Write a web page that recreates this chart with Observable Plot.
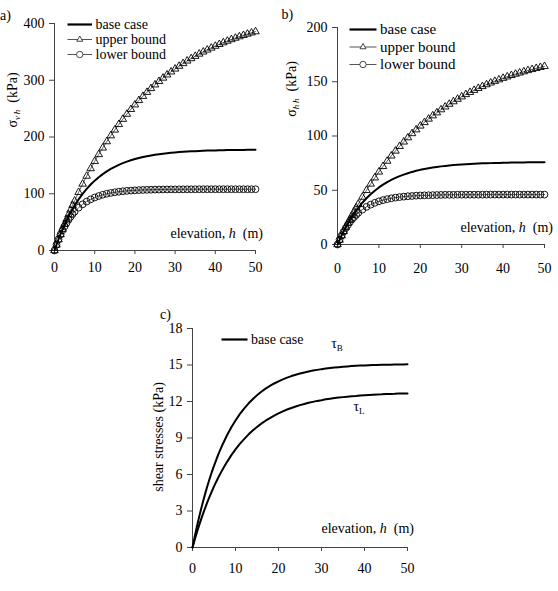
<!DOCTYPE html>
<html>
<head>
<meta charset="utf-8">
<script src="https://cdn.jsdelivr.net/npm/d3@7"></script>
<script src="https://cdn.jsdelivr.net/npm/@observablehq/plot@0.6"></script>
<style>
  html, body { margin: 0; padding: 0; background: white; }
  #fig { position: relative; width: 558px; height: 591px; background: white; overflow: hidden; }
  #fig svg { position: absolute; overflow: visible; max-width: none; }
  #fig svg, #fig svg text, #fig svg tspan { font-family: "Liberation Serif", Tinos, "Times New Roman", serif !important; }
</style>
</head>
<body>
<div id="fig"></div>
<script>
// ---------- data ----------
const h = [0,0.5,1,1.5,2,2.5,3,3.5,4,4.5,5,6,7,8,9,10,11,12,13,14,15,16,17,18,19,20,21,22,23,24,25,26,27,28,29,30,31,32,33,34,35,36,37,38,39,40,41,42,43,44,45,46,47,48,49,50];

// panel a) sigma_vh (kPa)
const aBase  = [0,10.2,19.8,28.8,37.3,45.4,52.9,60.1,66.8,73.2,79.2,90.1,99.9,108.5,116.3,123.1,129.2,134.6,139.4,143.7,147.5,150.9,153.9,156.6,159.0,161.1,163.0,164.6,166.1,167.4,168.6,169.7,170.6,171.4,172.1,172.8,173.4,173.9,174.3,174.7,175.1,175.4,175.7,176.0,176.2,176.4,176.6,176.7,176.9,177.0,177.1,177.2,177.3,177.4,177.4,177.5];
const aUpper = [0,9.7,19.1,28.3,37.4,46.2,54.8,63.3,71.5,79.6,87.4,102.6,117.2,131.1,144.4,157.1,169.2,180.8,191.9,202.4,212.5,222.2,231.4,240.3,248.7,256.8,264.5,271.8,278.9,285.6,292.0,298.1,304.0,309.6,314.9,320.0,324.9,329.6,334.1,338.3,342.4,346.3,350.0,353.5,356.9,360.2,363.3,366.3,369.1,371.8,374.4,376.9,379.2,381.5,383.6,385.7];
const aLower = [0,10.3,19.6,28.0,35.6,42.5,48.7,54.4,59.5,64.1,68.3,75.5,81.4,86.2,90.1,93.4,96.0,98.2,100.0,101.4,102.6,103.6,104.4,105.1,105.6,106.0,106.4,106.7,106.9,107.1,107.3,107.4,107.5,107.6,107.7,107.7,107.8,107.8,107.9,107.9,107.9,108,108,108,108,108,108,108,108,108,108,108,108,108,108,108];

// panel b) sigma_hh (kPa)
const bBase  = [0,4.3,8.4,12.3,15.9,19.4,22.6,25.7,28.5,31.2,33.8,38.5,42.6,46.3,49.6,52.6,55.2,57.5,59.5,61.4,63.0,64.4,65.7,66.9,67.9,68.8,69.6,70.3,70.9,71.5,72.0,72.4,72.8,73.2,73.5,73.8,74.0,74.2,74.4,74.6,74.8,74.9,75.0,75.1,75.2,75.3,75.4,75.5,75.5,75.6,75.6,75.7,75.7,75.7,75.8,75.8];
const bUpper = [0,4.1,8.1,12.1,15.9,19.7,23.3,26.9,30.4,33.9,37.2,43.7,49.9,55.8,61.5,66.9,72.0,76.9,81.7,86.2,90.5,94.6,98.5,102.3,105.8,109.3,112.5,115.7,118.7,121.5,124.3,126.9,129.4,131.7,134.0,136.2,138.3,140.3,142.2,144.0,145.7,147.4,149.0,150.5,151.9,153.3,154.6,155.9,157.1,158.2,159.3,160.4,161.4,162.4,163.3,164.2];
const bLower = [0,4.4,8.3,11.9,15.2,18.1,20.8,23.2,25.3,27.3,29.1,32.1,34.7,36.7,38.4,39.8,40.9,41.8,42.6,43.2,43.7,44.1,44.5,44.7,45.0,45.2,45.3,45.4,45.5,45.6,45.7,45.8,45.8,45.8,45.9,45.9,45.9,45.9,45.9,45.9,45.9,46,46,46,46,46,46,46,46,46,46,46,46,46,46,46];

// panel c) shear stresses (kPa)
const cTauB = [0,0.86,1.68,2.44,3.17,3.85,4.49,5.10,5.67,6.21,6.71,7.65,8.47,9.21,9.86,10.44,10.96,11.42,11.83,12.19,12.51,12.80,13.06,13.28,13.48,13.66,13.82,13.96,14.09,14.20,14.30,14.39,14.47,14.54,14.60,14.66,14.71,14.75,14.79,14.82,14.85,14.88,14.91,14.93,14.95,14.96,14.98,14.99,15.00,15.02,15.02,15.03,15.04,15.05,15.05,15.06];
const cTauL = [0,0.62,1.21,1.78,2.31,2.82,3.30,3.77,4.20,4.62,5.02,5.75,6.42,7.02,7.57,8.06,8.51,8.91,9.28,9.61,9.91,10.18,10.42,10.64,10.84,11.02,11.19,11.34,11.47,11.59,11.70,11.80,11.89,11.97,12.05,12.11,12.18,12.23,12.28,12.32,12.36,12.40,12.44,12.46,12.49,12.52,12.54,12.56,12.58,12.59,12.61,12.62,12.63,12.65,12.66,12.66];

const xTicks  = [0,10,20,30,40,50];
const aYTicks = [0,100,200,300,400];
const bYTicks = [0,50,100,150,200];
const cYTicks = [0,3,6,9,12,15,18];
const legendLabels = ["base case","upper bound","lower bound"];

// ---------- drawing ----------
const FONT = "Liberation Serif, Tinos, Times New Roman, serif";
const fig = document.getElementById("fig");

function panel(cfg) {
  const marks = [
    Plot.ruleY([0], {stroke: "#444", strokeWidth: 1}),
    Plot.ruleX([0], {stroke: "#444", strokeWidth: 1}),
    Plot.axisX({ticks: xTicks, tickSize: 4, tickPadding: cfg.xPad, label: null, fontSize: 14, stroke: "#444"}),
    Plot.axisY({ticks: cfg.yTicks, tickSize: 5, tickPadding: 5, label: null, fontSize: 14, stroke: "#444"}),
    ...cfg.marks
  ];
  const svg = Plot.plot({
    width: cfg.width, height: cfg.height,
    marginLeft: cfg.ml, marginRight: cfg.mr, marginTop: cfg.mt, marginBottom: cfg.mb,
    x: {domain: [0, 50]},
    y: {domain: cfg.yDomain},
    style: {fontFamily: FONT, fontSize: "14px", color: "black", background: "white"},
    marks
  });
  svg.setAttribute("font-family", FONT);
  svg.style.left = cfg.left + "px";
  svg.style.top = cfg.top + "px";
  fig.appendChild(svg);
  return d3.select(svg);
}

function boundMarks(ys, symbol, r) {
  return [
    Plot.line(ys, {x: h, y: ys, stroke: "#333", strokeWidth: 0.8}),
    Plot.dot(ys, {x: h, y: ys, symbol, r, stroke: "black", strokeWidth: 0.9, fill: "none"})
  ];
}

function text(sel, x, y, str, opts = {}) {
  return sel.append("text")
    .attr("x", x).attr("y", y)
    .attr("font-family", FONT)
    .attr("font-size", opts.size || 14)
    .attr("text-anchor", opts.anchor || "start")
    .attr("fill", "black")
    .text(str);
}

function legendRow(sel, x0, x1, y, label, symbol, size) {
  sel.append("line").attr("x1", x0).attr("x2", x1).attr("y1", y).attr("y2", y)
    .attr("stroke", symbol ? "#555" : "black").attr("stroke-width", symbol ? 1 : 2.2);
  if (symbol === "triangle") {
    const s = 6, cx = (x0 + x1) / 2;
    sel.append("path")
      .attr("d", `M${cx},${y - s*0.58}L${cx + s/2},${y + s*0.29}L${cx - s/2},${y + s*0.29}Z`)
      .attr("fill", "white").attr("stroke", "#333").attr("stroke-width", 0.9);
  } else if (symbol === "circle") {
    sel.append("circle").attr("cx", (x0 + x1) / 2).attr("cy", y).attr("r", 3.2)
      .attr("fill", "white").attr("stroke", "#333").attr("stroke-width", 0.9);
  }
  text(sel, x1 + 3.5, y + 4.6, label, {size: size});
}

function elevation(sel, xRight, y) {
  const t = sel.append("text").attr("x", xRight).attr("y", y)
    .attr("font-family", FONT).attr("font-size", 14).attr("text-anchor", "end").attr("fill", "black");
  t.append("tspan").text("elevation, ");
  t.append("tspan").attr("font-style", "italic").text("h");
  t.append("tspan").text("\u00a0\u00a0(m)");
}

function sigmaLabel(sel, cx, cy, sub) {
  const t = sel.append("text")
    .attr("transform", `translate(${cx},${cy}) rotate(-90)`)
    .attr("text-anchor", "middle")
    .attr("font-family", FONT).attr("font-size", 14).attr("fill", "black");
  t.append("tspan").text("σ");
  t.append("tspan").attr("font-style", "italic").attr("font-size", 9).attr("dy", 3).text(sub);
  t.append("tspan").attr("dy", -3).text("\u00a0\u00a0(kPa)");
}

// ---- panel a ----
const A = panel({
  left: 0, top: 0, width: 275, height: 290, ml: 54, mr: 20, mt: 23, mb: 40,
  yDomain: [0, 400], yTicks: aYTicks, xPad: 8,
  marks: [
    ...boundMarks(aUpper, "triangle", 2.8),
    ...boundMarks(aLower, "circle", 3.4),
    Plot.line(aBase, {x: h, y: aBase, stroke: "black", strokeWidth: 2})
  ]
});
text(A, 0, 20, "a)", {size: 14});
legendRow(A, 67.5, 92, 24.5, legendLabels[0], null, 14);
legendRow(A, 67.5, 92, 39.5, legendLabels[1], "triangle", 14);
legendRow(A, 67.5, 92, 54.5, legendLabels[2], "circle", 14);
elevation(A, 263, 237.5);
sigmaLabel(A, 17, 100, "v\u2009h");

// ---- panel b ----
const B = panel({
  left: 280, top: 0, width: 278, height: 290, ml: 57, mr: 14, mt: 27, mb: 46,
  yDomain: [0, 200], yTicks: bYTicks, xPad: 15,
  marks: [
    ...boundMarks(bUpper, "triangle", 2.8),
    ...boundMarks(bLower, "circle", 3.4),
    Plot.line(bBase, {x: h, y: bBase, stroke: "black", strokeWidth: 2})
  ]
});
text(B, 1.5, 18.5, "b)", {size: 14});
legendRow(B, 69.5, 96.5, 29.5, legendLabels[0], null, 15);
legendRow(B, 69.5, 96.5, 47, legendLabels[1], "triangle", 15);
legendRow(B, 69.5, 96.5, 64.5, legendLabels[2], "circle", 15);
elevation(B, 273, 231.5);
sigmaLabel(B, 15.5, 89, "h\u2009h");

// ---- panel c ----
const C = panel({
  left: 130, top: 300, width: 290, height: 291, ml: 62, mr: 13, mt: 28, mb: 44,
  yDomain: [0, 18], yTicks: cYTicks, xPad: 12,
  marks: [
    Plot.line(cTauB, {x: h, y: cTauB, stroke: "black", strokeWidth: 2}),
    Plot.line(cTauL, {x: h, y: cTauL, stroke: "black", strokeWidth: 2})
  ]
});
text(C, 30, 19, "c)", {size: 14});
legendRow(C, 91.5, 117.5, 39.5, legendLabels[0], null, 14);
// curve labels
(function () {
  const t1 = C.append("text").attr("x", 207).attr("y", 48).attr("font-family", FONT).attr("font-size", 14).attr("fill", "black");
  t1.append("tspan").text("τ");
  t1.append("tspan").attr("font-size", 9).attr("dy", 2.5).text("B");
  const t2 = C.append("text").attr("x", 229).attr("y", 111).attr("font-family", FONT).attr("font-size", 14).attr("fill", "black");
  t2.append("tspan").text("τ");
  t2.append("tspan").attr("font-size", 9).attr("dy", 2.5).text("L");
})();
elevation(C, 284, 232.5);
C.append("text")
  .attr("transform", "translate(33,137) rotate(-90)")
  .attr("text-anchor", "middle").attr("font-family", FONT).attr("font-size", 14).attr("fill", "black")
  .text("shear stresses (kPa)");
</script>
</body>
</html>
